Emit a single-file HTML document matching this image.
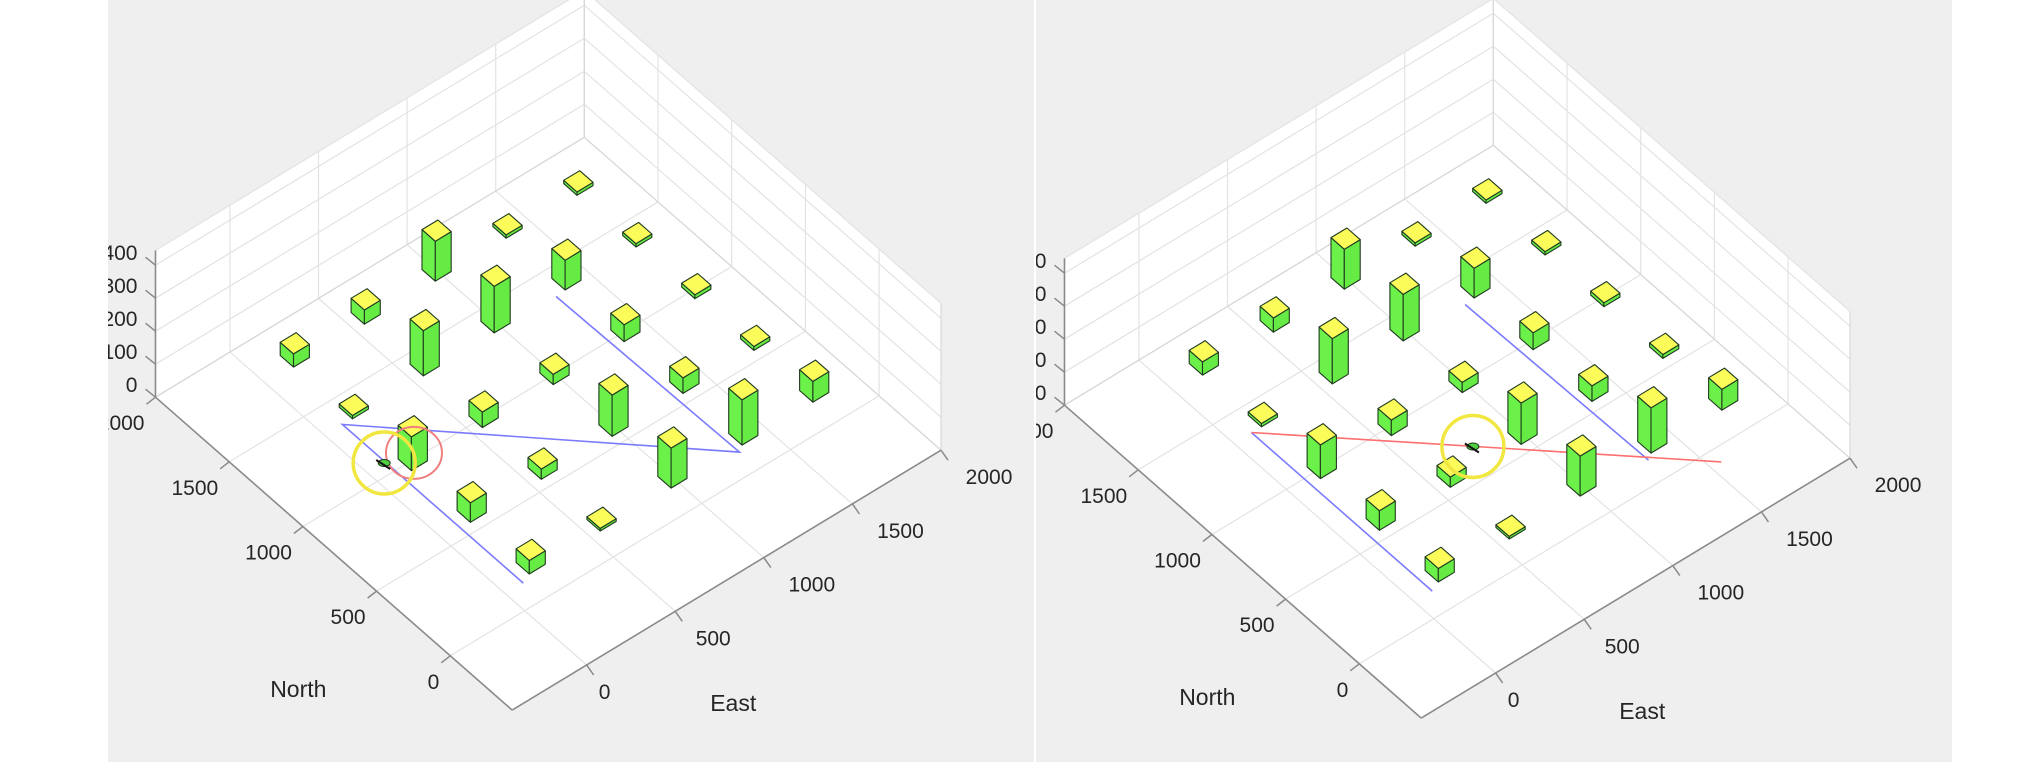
<!DOCTYPE html>
<html><head><meta charset="utf-8"><title>3D city map</title>
<style>html,body{margin:0;padding:0;background:#fff;width:2028px;height:762px;overflow:hidden}svg text{font-family:"Liberation Sans",sans-serif}</style>
</head><body>
<svg id="fig" xmlns="http://www.w3.org/2000/svg" width="2028" height="762" viewBox="0 0 2028 762">
<defs>
<clipPath id="clipL"><rect x="108" y="0" width="926" height="762"/></clipPath>
<clipPath id="clipR"><rect x="1036" y="0" width="916" height="762"/></clipPath>
</defs>
<rect x="0" y="0" width="2028" height="762" fill="#ffffff"/>
<rect x="108" y="0" width="926" height="762" fill="#efefef"/>
<rect x="1036" y="0" width="916" height="762" fill="#efefef"/>
<g id="panelL" clip-path="url(#clipL)"></g>
<g id="panelR" clip-path="url(#clipR)"></g>
</svg>
<script>
// ---- data ----
const bldgE = [200,600,1000,1400,1800, 200,600,1000,1400,1800, 200,600,1000,1400,1800, 200,600,1000,1400,1800, 200,600,1000,1400,1800];
const bldgN = [200,200,200,200,200, 600,600,600,600,600, 1000,1000,1000,1000,1000, 1400,1400,1400,1400,1400, 1800,1800,1800,1800,1800];
const bldgH = [41,8,121,137,63, 59,31,125,47,12, 102,47,31,51,12, 10,137,141,90,10, 40,43,121,10,10];
const eastTicks = [0,500,1000,1500,2000];
const northTicks = [0,500,1000,1500,2000];
const upTicks = [0,100,200,300,400];
const eastTickLabels = ["0","500","1000","1500","2000"];
const northTickLabels = ["0","500","1000","1500","2000"];
const upTickLabels = ["0","100","200","300","400"];
// left panel route (blue) and markers
const routeLE = [1300,1320,100,100];
const routeLN = [1350,130,1357,130];
const redCircleL = [231,1029];
const yellowL = [93,1065];
// right panel routes
const blueR1E = [1300,1320]; const blueR1N = [1350,130];
const blueR2E = [100,100]; const blueR2N = [1357,130];
const redRE = [100,1556]; const redRN = [1357,-80];
const yellowR = [786,679];

const NS='http://www.w3.org/2000/svg';
const EMIN=-420, EMAX=2000, NMIN=-420, NMAX=2000, ZMAX=445;
const HS=45;
function mk(parent,tag,attrs){const el=document.createElementNS(NS,tag);for(const k in attrs)el.setAttribute(k,attrs[k]);parent.appendChild(el);return el;}

function panel(g, ox, oy, which){
  const P=(E,N,Z)=>[512.2+(E-EMIN)*0.1772-(N-NMIN)*0.1474+ox, 710.1-(E-EMIN)*0.1074-(N-NMIN)*0.1293-Z*0.33+oy];
  const pts=a=>a.map(p=>p[0].toFixed(1)+','+p[1].toFixed(1)).join(' ');
  const line=(a,b,st,w,nm)=>{const l=mk(g,'line',{x1:a[0],y1:a[1],x2:b[0],y2:b[1],stroke:st,'stroke-width':w});
    
    return l;};
  const hull=mk(g,'polygon',{points:pts([P(EMIN,NMIN,0),P(EMAX,NMIN,0),P(EMAX,NMIN,ZMAX),P(EMAX,NMAX,ZMAX),P(EMIN,NMAX,ZMAX),P(EMIN,NMAX,0)]),fill:'#ffffff'});
  
  
  const gc='#e3e3e3';
  eastTicks.forEach(e=>{line(P(e,NMIN,0),P(e,NMAX,0),gc,1.2,'floor-grid-east');line(P(e,NMAX,0),P(e,NMAX,ZMAX),gc,1.2,'wall-grid-east');});
  northTicks.forEach(n=>{line(P(EMIN,n,0),P(EMAX,n,0),gc,1.2,'floor-grid-north');line(P(EMAX,n,0),P(EMAX,n,ZMAX),gc,1.2,'wall-grid-north');});
  upTicks.forEach(z=>{line(P(EMIN,NMAX,z),P(EMAX,NMAX,z),gc,1.2,'wall-grid-up');line(P(EMAX,NMAX,z),P(EMAX,NMIN,z),gc,1.2,'wall-grid-up');});
  line(P(EMIN,NMAX,0),P(EMAX,NMAX,0),'#d8d8d8',1.2,'box-edge');
  line(P(EMAX,NMAX,0),P(EMAX,NMIN,0),'#d8d8d8',1.2,'box-edge');
  line(P(EMAX,NMAX,0),P(EMAX,NMAX,ZMAX),'#d8d8d8',1.2,'box-edge');
  line(P(EMAX,NMIN,0),P(EMAX,NMIN,ZMAX),'#d8d8d8',1.2,'box-edge');
  line(P(EMIN,NMAX,ZMAX),P(EMAX,NMAX,ZMAX),'#e3e3e3',1.2,'box-edge');
  line(P(EMAX,NMAX,ZMAX),P(EMAX,NMIN,ZMAX),'#e3e3e3',1.2,'box-edge');
  const ac='#8a8a8a';
  line(P(EMIN,NMIN,0),P(EMAX,NMIN,0),ac,1.6,'east-axis-line');
  line(P(EMIN,NMIN,0),P(EMIN,NMAX,0),ac,1.6,'north-axis-line');
  line(P(EMIN,NMAX,0),P(EMIN,NMAX,ZMAX),ac,1.6,'up-axis-line');
  const tc='#262626';
  eastTicks.forEach((e,i)=>{const a=P(e,NMIN,0);line(a,[a[0]+7,a[1]+10],ac,1.5,'east-tick');
    const t=mk(g,'text',{x:a[0]+8+10*eastTickLabels[i].length,y:a[1]+34,'font-size':21,fill:tc,'text-anchor':'middle'});t.textContent=eastTickLabels[i];
    
    });
  northTicks.forEach((n,i)=>{const a=P(EMIN,n,0);line(a,[a[0]-9,a[1]+7],ac,1.5,'north-tick');
    const t=mk(g,'text',{x:a[0]-11,y:a[1]+33,'font-size':21,fill:tc,'text-anchor':'end'});t.textContent=northTickLabels[i];
    
    });
  upTicks.forEach((z,i)=>{const a=P(EMIN,NMAX,z);line(a,[a[0]-10,a[1]-8],ac,1.5,'up-tick');
    const t=mk(g,'text',{x:a[0]-18,y:a[1]-5,'font-size':21,fill:tc,'text-anchor':'end'});t.textContent=upTickLabels[i];
    
    });
  const nt=mk(g,'text',{x:P(EMIN,NMIN,0)[0]-242,y:P(EMIN,NMIN,0)[1]-13,'font-size':23,fill:tc});nt.textContent='North';
  
  
  const et=mk(g,'text',{x:P(EMIN,NMIN,0)[0]+198,y:P(EMIN,NMIN,0)[1]+1,'font-size':23,fill:tc});et.textContent='East';
  
  
  const route=(Es,Ns,col,nm)=>{const p=mk(g,'polyline',{points:pts(Es.map((e,i)=>P(e,Ns[i],0))),fill:'none',stroke:col,'stroke-width':1.6});
    
    };
  if(which==='L'){route(routeLE,routeLN,'#7b7bff','planned-route');}
  else{route(blueR1E,blueR1N,'#7b7bff','planned-route-east');route(blueR2E,blueR2N,'#7b7bff','planned-route-west');route(redRE,redRN,'#ff6f6f','flown-path');}
  const idx=bldgE.map((_,i)=>i).sort((a,b)=>(bldgE[b]+bldgN[b])-(bldgE[a]+bldgN[a]));
  idx.forEach(i=>{const E=bldgE[i],N=bldgN[i],H=bldgH[i];
    const bg=mk(g,'g',{});
    
    
    const st={stroke:'#1f3a1f','stroke-width':1.1,'stroke-linejoin':'round'};
    mk(bg,'polygon',Object.assign({points:pts([P(E-HS,N-HS,0),P(E-HS,N+HS,0),P(E-HS,N+HS,H),P(E-HS,N-HS,H)]),fill:'#6cf04a'},st));
    mk(bg,'polygon',Object.assign({points:pts([P(E-HS,N-HS,0),P(E+HS,N-HS,0),P(E+HS,N-HS,H),P(E-HS,N-HS,H)]),fill:'#66ea44'},st));
    mk(bg,'polygon',Object.assign({points:pts([P(E-HS,N-HS,H),P(E+HS,N-HS,H),P(E+HS,N+HS,H),P(E-HS,N+HS,H)]),fill:'#fbfb5a'},st));
  });
  if(which==='L'){const c=P(redCircleL[0],redCircleL[1],0);const rc=mk(g,'ellipse',{cx:c[0],cy:c[1],rx:28,ry:26,fill:'none',stroke:'#f08080','stroke-width':2});
    
    }
  const y=which==='L'?yellowL:yellowR;const c=P(y[0],y[1],0);
  const mg=mk(g,'g',{});
  
  
  mk(mg,'ellipse',{cx:c[0],cy:c[1],rx:6,ry:3.5,fill:'#50d040',stroke:'#1a3a1a','stroke-width':1});
  mk(mg,'line',{x1:c[0]-8,y1:c[1]-3,x2:c[0]+6,y2:c[1]+6,stroke:'#111','stroke-width':2});
  const yc=mk(g,'circle',{cx:c[0],cy:c[1],r:31,fill:'none',stroke:'#f2e641','stroke-width':3.5});
  
  
}
panel(document.getElementById('panelL'),0,0,'L');
panel(document.getElementById('panelR'),909,8,'R');
</script>
</body></html>
